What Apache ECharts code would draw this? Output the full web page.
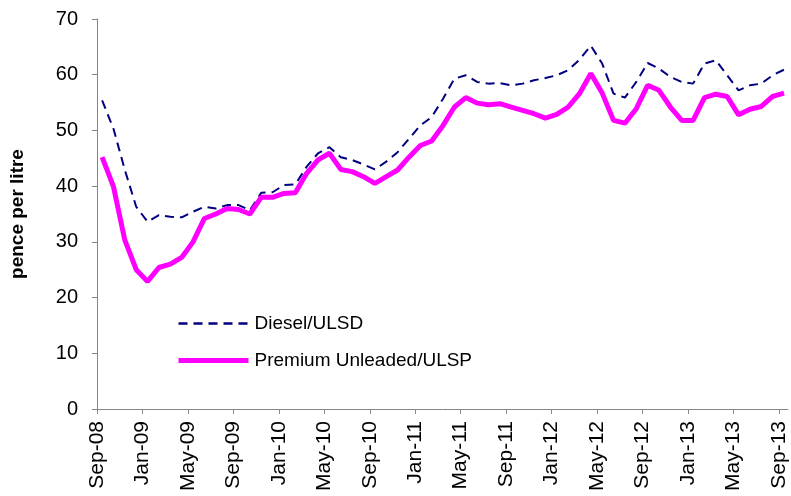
<!DOCTYPE html>
<html>
<head>
<meta charset="utf-8">
<script src="https://cdn.jsdelivr.net/npm/echarts@6/dist/echarts.min.js"></script>
<style>
    html, body { margin: 0; padding: 0; background: #fff; }
    #chart { width: 791px; height: 496px; }
</style>
</head>
<body>
<div id="chart"></div>
<script>
// tick labels, one every 4 months from Sep-08
const tickLabels = ['Sep-08', 'Jan-09', 'May-09', 'Sep-09', 'Jan-10', 'May-10', 'Sep-10', 'Jan-11',
    'May-11', 'Sep-11', 'Jan-12', 'May-12', 'Sep-12', 'Jan-13', 'May-13', 'Sep-13']

// monthly values, Sep-08 .. Sep-13 (pence per litre)
const diesel = [55.4, 50.3, 42.9, 36.3, 33.6, 34.8, 34.5, 34.4, 35.4, 36.3, 36.0, 36.6, 36.6, 35.7, 38.8, 38.9,
    40.2, 40.3, 43.5, 45.9, 47.0, 45.2, 44.7, 43.9, 43.0, 44.4, 46.1, 48.5, 50.9, 52.4, 55.7, 59.3,
    59.9, 58.7, 58.4, 58.5, 58.1, 58.4, 59.0, 59.4, 59.9, 60.8, 62.7, 65.2, 62.0, 56.6, 55.9, 58.7,
    62.1, 61.1, 59.6, 58.7, 58.4, 62.0, 62.6, 59.9, 57.2, 58.1, 58.4, 59.9, 60.9]
const premium = [45.2, 39.9, 30.3, 25.0, 22.9, 25.4, 26.0, 27.2, 30.0, 34.2, 35.0, 36.0, 35.8, 35.0, 38.0, 38.0,
    38.7, 38.8, 42.3, 44.7, 45.9, 43.0, 42.6, 41.7, 40.5, 41.7, 42.9, 45.2, 47.3, 48.1, 50.9, 54.2,
    55.9, 54.9, 54.6, 54.8, 54.2, 53.6, 53.0, 52.2, 52.9, 54.2, 56.6, 60.2, 56.7, 51.8, 51.3, 53.9,
    58.1, 57.2, 54.2, 51.8, 51.8, 55.9, 56.5, 56.1, 52.8, 53.8, 54.3, 56.1, 56.7]

// points sit mid-month, ticks at the start of the month
const toPoints = arr => arr.map((v, i) => [i + 0.45, v])
const tickValues = tickLabels.map((t, i) => i * 4)

const chart = echarts.init(document.getElementById('chart'))
const axisColor = '#868686'
const font = 'Liberation Sans, Arial, sans-serif'
const dieselColor = '#000080'
const premiumColor = '#ff00ff'

chart.setOption({
    animation: false,
    backgroundColor: '#fff',
    textStyle: { fontFamily: font },
    grid: { left: 96, right: 3, top: 19, bottom: 87, containLabel: false },
    legend: {
        orient: 'vertical',
        left: 176,
        top: 314,
        itemWidth: 70,
        itemHeight: 19,
        itemGap: 18,
        padding: 0,
        itemStyle: { opacity: 0 },
        textStyle: { fontSize: 19, color: '#000', fontFamily: font, padding: [0, 0, 0, 1] },
        data: [
            { name: 'Diesel/ULSD', lineStyle: { color: dieselColor, width: 2.5, type: [9, 6] } },
            { name: 'Premium Unleaded/ULSP', lineStyle: { color: premiumColor, width: 5 } }
        ]
    },
    xAxis: {
        type: 'value',
        min: 0,
        max: 60.8,
        axisLine: { lineStyle: { color: axisColor, width: 1 } },
        axisTick: { customValues: tickValues, length: 5, lineStyle: { color: axisColor } },
        splitLine: { show: false },
        axisLabel: {
            customValues: tickValues,
            rotate: 90,
            margin: 12,
            fontSize: 21,
            color: '#000',
            fontFamily: font,
            formatter: v => tickLabels[Math.round(v / 4)]
        }
    },
    yAxis: {
        type: 'value',
        min: 0,
        max: 70,
        interval: 10,
        name: 'pence per litre',
        nameLocation: 'middle',
        nameGap: 70,
        nameTextStyle: { fontSize: 19, fontWeight: 'bold', color: '#000', fontFamily: font },
        axisLine: { show: true, lineStyle: { color: axisColor, width: 1 } },
        axisTick: { show: true, length: 5, lineStyle: { color: axisColor } },
        splitLine: { show: false },
        axisLabel: { fontSize: 20, color: '#000', margin: 19, fontFamily: font }
    },
    series: [
        {
            name: 'Diesel/ULSD',
            type: 'line',
            data: toPoints(diesel),
            symbol: 'none',
            itemStyle: { color: dieselColor },
            lineStyle: { color: dieselColor, width: 2, type: [9, 6] }
        },
        {
            name: 'Premium Unleaded/ULSP',
            type: 'line',
            data: toPoints(premium),
            symbol: 'none',
            itemStyle: { color: premiumColor },
            lineStyle: { color: premiumColor, width: 5 }
        }
    ]
})
</script>
</body>
</html>
